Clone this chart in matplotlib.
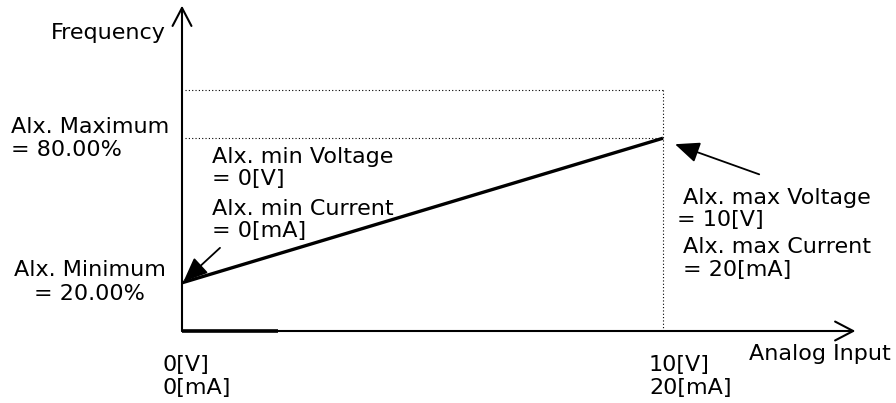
import matplotlib
matplotlib.use("Agg")
import matplotlib.pyplot as plt
from matplotlib.patches import ArrowStyle

# ---- data ----
input_range_v = [0, 10]          # analog input (V)
freq_pct = [20, 80]              # Alx. Minimum -> Alx. Maximum (%)
full_scale_pct = 100             # upper dotted reference
bold_base_end_v = 2              # short bold part of the x axis
x_axis_end_v = 14.0
y_axis_end_pct = 135.0

W, H = 896, 403
fig = plt.figure(figsize=(W / 100, H / 100), dpi=100)
fig.patch.set_facecolor("white")

# axes placed so that data (0..10 V, 0..100 %) maps onto the drawing
x0_px, x1_px, y0_px, y1_px = 182, 663, 331, 90
ax = fig.add_axes([x0_px / W, 1 - y0_px / H, (x1_px - x0_px) / W, (y0_px - y1_px) / H])
ax.set_xlim(input_range_v)
ax.set_ylim(0, full_scale_pct)
ax.axis("off")

FS = 16
FONT = "DejaVu Sans"

def ftext(px, py, s, ha="left", va="center"):
    fig.text(px / W, 1 - py / H, s, ha=ha, va=va, fontsize=FS, family=FONT, color="black")

# dotted references
dot = dict(color="black", lw=0.8, linestyle=(0, (1, 2)), clip_on=False)
ax.plot([0.06, input_range_v[1]], [full_scale_pct, full_scale_pct], **dot)
ax.plot([0.06, input_range_v[1]], [freq_pct[1], freq_pct[1]], **dot)
ax.plot([input_range_v[1], input_range_v[1]], [0, full_scale_pct], **dot)

# main characteristic line
ax.plot(input_range_v, freq_pct, color="black", lw=2.4, solid_capstyle="butt", clip_on=False)

# axes with open arrowheads
axis_style = ArrowStyle("->", head_length=0.65, head_width=0.34)
ax.annotate("", xy=(0, y_axis_end_pct), xytext=(0, 0), xycoords="data",
            arrowprops=dict(arrowstyle=axis_style, lw=1.5, color="black",
                            shrinkA=0, shrinkB=0, mutation_scale=20),
            annotation_clip=False)
ax.annotate("", xy=(x_axis_end_v, 0), xytext=(0, 0), xycoords="data",
            arrowprops=dict(arrowstyle=axis_style, lw=1.5, color="black",
                            shrinkA=0, shrinkB=0, mutation_scale=20),
            annotation_clip=False)
ax.plot([0, bold_base_end_v], [0, 0], color="black", lw=2.6, solid_capstyle="butt", clip_on=False)

# pointer arrows
ptr = ArrowStyle("-|>", head_length=0.75, head_width=0.32)
ax.annotate("", xy=(0.03, freq_pct[0] + 0.5), xytext=(0.79, 34.5), xycoords="data",
            arrowprops=dict(arrowstyle=ptr, lw=1.3, color="black", fc="black",
                            shrinkA=0, shrinkB=0, mutation_scale=20),
            annotation_clip=False)
ax.annotate("", xy=(10.25, 77.5), xytext=(12.0, 65.0), xycoords="data",
            arrowprops=dict(arrowstyle=ptr, lw=1.3, color="black", fc="black",
                            shrinkA=0, shrinkB=0, mutation_scale=20),
            annotation_clip=False)

# labels
ftext(166, 33, "Frequency", ha="right")
ftext(11, 127, "Alx. Maximum")
ftext(11, 150, "= 80.00%")
ftext(212, 157, "Alx. min Voltage")
ftext(212, 179, "= 0[V]")
ftext(212, 209, "Alx. min Current")
ftext(212, 231, "= 0[mA]")
ftext(14, 270, "Alx. Minimum")
ftext(34, 294, "= 20.00%")
ftext(163, 365, "0[V]")
ftext(163, 388, "0[mA]")
ftext(649, 365, "10[V]")
ftext(649, 388, "20[mA]")
ftext(749, 354, "Analog Input")
ftext(683, 198, "Alx. max Voltage")
ftext(677, 220, "= 10[V]")
ftext(683, 247, "Alx. max Current")
ftext(683, 270, "= 20[mA]")

fig.savefig("out.png", dpi=100, facecolor="white")
